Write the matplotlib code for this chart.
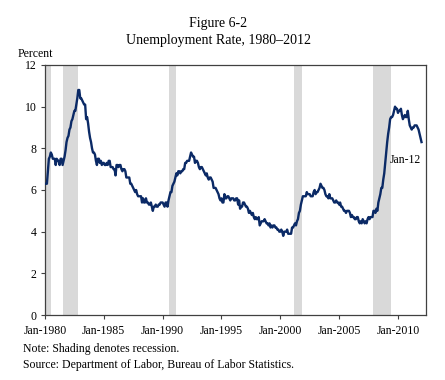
import matplotlib
matplotlib.use("Agg")
import matplotlib.pyplot as plt
import numpy as np

plt.rcParams['font.family'] = ['Liberation Serif', 'DejaVu Serif']

# Monthly unemployment rate (%), Jan 1980 - Jan 2012
rate_1980s = [
    6.3, 6.3, 6.3, 6.9, 7.5, 7.6, 7.8, 7.7, 7.5, 7.5, 7.5, 7.2,
    7.5, 7.4, 7.4, 7.2, 7.5, 7.5, 7.2, 7.4, 7.6, 7.9, 8.3, 8.5,
    8.6, 8.9, 9.0, 9.3, 9.4, 9.6, 9.8, 9.8, 10.1, 10.4, 10.8, 10.8,
    10.4, 10.4, 10.3, 10.2, 10.1, 10.1, 9.4, 9.5, 9.2, 8.8, 8.5, 8.3,
    8.0, 7.8, 7.8, 7.7, 7.4, 7.2, 7.5, 7.5, 7.3, 7.4, 7.2, 7.3,
    7.3, 7.2, 7.2, 7.3, 7.2, 7.4, 7.4, 7.1, 7.1, 7.1, 7.0, 7.0,
    6.7, 7.2, 7.2, 7.1, 7.2, 7.2, 7.0, 6.9, 7.0, 7.0, 6.9, 6.6,
    6.6, 6.6, 6.6, 6.3, 6.3, 6.2, 6.1, 6.0, 5.9, 6.0, 5.8, 5.7,
    5.7, 5.7, 5.7, 5.4, 5.6, 5.4, 5.4, 5.6, 5.4, 5.4, 5.3, 5.3,
    5.4, 5.2, 5.0, 5.2, 5.2, 5.3, 5.2, 5.2, 5.3, 5.3, 5.4, 5.4,
]
rate_1990s = [
    5.4, 5.3, 5.2, 5.4, 5.4, 5.2, 5.5, 5.7, 5.9, 5.9, 6.2, 6.3,
    6.4, 6.6, 6.8, 6.7, 6.9, 6.9, 6.8, 6.9, 6.9, 7.0, 7.0, 7.3,
    7.3, 7.4, 7.4, 7.4, 7.6, 7.8, 7.7, 7.6, 7.6, 7.3, 7.4, 7.4,
    7.3, 7.1, 7.0, 7.1, 7.1, 7.0, 6.9, 6.8, 6.7, 6.8, 6.6, 6.5,
    6.6, 6.6, 6.5, 6.4, 6.1, 6.1, 6.1, 6.0, 5.9, 5.8, 5.6, 5.5,
    5.6, 5.4, 5.4, 5.8, 5.6, 5.6, 5.7, 5.7, 5.6, 5.5, 5.6, 5.6,
    5.6, 5.5, 5.5, 5.6, 5.6, 5.3, 5.5, 5.1, 5.2, 5.2, 5.4, 5.4,
    5.3, 5.2, 5.2, 5.1, 4.9, 5.0, 4.9, 4.8, 4.9, 4.7, 4.6, 4.7,
    4.6, 4.6, 4.7, 4.3, 4.4, 4.5, 4.5, 4.5, 4.6, 4.5, 4.4, 4.4,
    4.3, 4.4, 4.2, 4.3, 4.2, 4.3, 4.3, 4.2, 4.2, 4.1, 4.1, 4.0,
]
rate_2000s = [
    4.0, 4.1, 4.0, 3.8, 4.0, 4.0, 4.0, 4.1, 3.9, 3.9, 3.9, 3.9,
    4.2, 4.2, 4.3, 4.4, 4.3, 4.5, 4.6, 4.9, 5.0, 5.3, 5.5, 5.7,
    5.7, 5.7, 5.7, 5.9, 5.8, 5.8, 5.8, 5.7, 5.7, 5.7, 5.9, 6.0,
    5.8, 5.9, 5.9, 6.0, 6.1, 6.3, 6.2, 6.1, 6.1, 6.0, 5.8, 5.7,
    5.7, 5.6, 5.8, 5.6, 5.6, 5.6, 5.5, 5.4, 5.4, 5.5, 5.4, 5.4,
    5.3, 5.4, 5.2, 5.2, 5.1, 5.0, 5.0, 4.9, 5.0, 5.0, 5.0, 4.9,
    4.7, 4.8, 4.7, 4.7, 4.6, 4.6, 4.7, 4.7, 4.5, 4.4, 4.5, 4.4,
    4.6, 4.5, 4.4, 4.5, 4.4, 4.6, 4.7, 4.6, 4.7, 4.7, 4.7, 5.0,
    5.0, 4.9, 5.1, 5.0, 5.4, 5.6, 5.8, 6.1, 6.1, 6.5, 6.8, 7.3,
    7.8, 8.3, 8.7, 9.0, 9.4, 9.5, 9.5, 9.6, 9.8, 10.0, 9.9, 9.9,
]
rate_2010s = [
    9.7, 9.8, 9.8, 9.9, 9.6, 9.4, 9.5, 9.6, 9.5, 9.5, 9.8, 9.4,
    9.1, 9.0, 8.9, 9.0, 9.0, 9.1, 9.1, 9.1, 9.0, 8.9, 8.7, 8.5,
    8.3,
]

# Recessions (start, end) as decimal years
recession_start = [1980.0, 1981.5, 1990.5, 2001.17, 2007.92]
recession_end = [1980.5, 1982.83, 1991.17, 2001.83, 2009.42]

xtick_years = [1980, 1985, 1990, 1995, 2000, 2005, 2010]
xtick_labels = ["Jan-1980", "Jan-1985", "Jan-1990", "Jan-1995",
                "Jan-2000", "Jan-2005", "Jan-2010"]

rates = np.array(rate_1980s + rate_1990s + rate_2000s + rate_2010s)
t = 1980 + np.arange(len(rates)) / 12.0

fig = plt.figure(figsize=(4.45, 3.8), dpi=100)
ax = fig.add_axes([0.101, 0.171, 0.856, 0.658])

for s, e in zip(recession_start, recession_end):
    ax.axvspan(s, e, color='#d9d9d9', lw=0, zorder=1)

ax.plot(t, rates, color='#0b2a66', lw=1.7, zorder=3)

ax.set_xlim(1980, 2012.37)
ax.set_ylim(0, 12)
ax.set_yticks([0, 2, 4, 6, 8, 10, 12])
ax.set_xticks(xtick_years)
ax.set_xticklabels(xtick_labels)
ax.tick_params(axis='both', labelsize=8.5, length=3, width=0.8,
               color='#404040')
ax.tick_params(axis='x', pad=4)
ax.tick_params(axis='y', pad=3)
for sp in ax.spines.values():
    sp.set_color('#404040')
    sp.set_linewidth(0.9)

ax.text(2009.3, 7.45, "Jan-12", fontsize=8.5, va='center', ha='left', zorder=4)

fig.text(0.49, 0.937, "Figure 6-2", ha='center', va='center', fontsize=10)
fig.text(0.49, 0.893, "Unemployment Rate, 1980\u20132012", ha='center',
         va='center', fontsize=10)
fig.text(0.04, 0.858, "Percent", ha='left', va='center', fontsize=8.5)
fig.text(0.052, 0.082, "Note: Shading denotes recession.", ha='left',
         va='center', fontsize=8.5)
fig.text(0.052, 0.040, "Source: Department of Labor, Bureau of Labor Statistics.",
         ha='left', va='center', fontsize=8.5)

fig.savefig("out.png", dpi=100)
